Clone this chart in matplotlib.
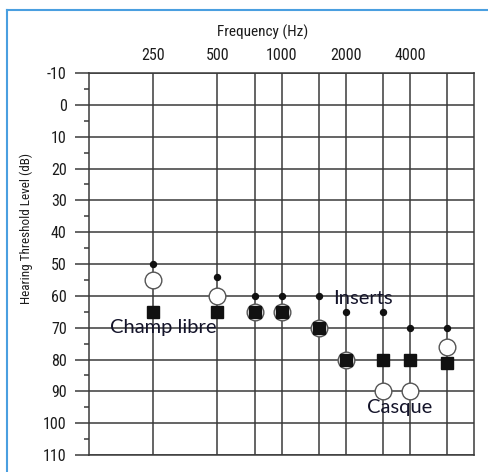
import matplotlib
matplotlib.use('Agg')
import matplotlib.pyplot as plt
from matplotlib import font_manager
from matplotlib.lines import Line2D

# fonts: narrow face for the audiogram frame, humanist face for the notes
names = {f.name for f in font_manager.fontManager.ttflist}
narrow = 'DejaVu Sans'
for cand in ['Liberation Sans Narrow', 'Roboto Condensed', 'Open Sans Condensed']:
    if cand in names:
        narrow = cand
        break
note_font = 'Lato'
plt.rcParams['axes.unicode_minus'] = False

grid_freqs = [250, 500, 750, 1000, 1500, 2000, 3000, 4000, 6000]
label_freqs = [250, 500, 1000, 2000, 4000]
db_ticks = list(range(-10, 111, 10))

# thresholds per frequency (dB HL)
dot_db = [50, 54, 60, 60, 60, 65, 65, 70, 70]
circle_db = [55, 60, 65, 65, 70, 80, 90, 90, 76]
square_db = [65, 65, 65, 65, 70, 80, 80, 80, 81]

fig = plt.figure(figsize=(4.89, 4.72), dpi=100)
ax = fig.add_axes([89/489, 1 - 455/472, (474 - 89)/489, (455 - 73)/472])

ax.set_xscale('log', base=2)
ax.set_xlim(125, 8000)
ax.set_ylim(110, -10)

gc = '#3a3a3a'
for f in grid_freqs:
    ax.axvline(f, color=gc, lw=1.1, zorder=1)
for d in db_ticks:
    ax.axhline(d, color=gc, lw=1.1, zorder=1)
for s in ax.spines.values():
    s.set_color(gc)
    s.set_linewidth(1.1)

lc = '#1c1c1c'
ax.set_yticks(db_ticks)
ax.set_yticks(range(-5, 110, 10), minor=True)
ax.tick_params(axis='y', which='major', length=10, width=1.1, color=gc,
               pad=6, labelsize=11.5, labelcolor=lc)
ax.tick_params(axis='y', which='minor', length=3.5, width=1.1, color=gc)
for t in ax.get_yticklabels():
    t.set_fontfamily(narrow)
    t.set_fontstretch('condensed')

ax.xaxis.set_minor_locator(plt.NullLocator())
ax.set_xticks(label_freqs)
ax.set_xticklabels([str(f) for f in label_freqs], family=narrow,
                   fontstretch='condensed')
ax.xaxis.tick_top()
ax.tick_params(axis='x', which='major', length=0, pad=7, labelsize=11.5,
               labelcolor=lc)

ax.plot(grid_freqs, circle_db, 'o', ms=12, mfc='white', mec='#555555',
        mew=1.0, ls='none', zorder=3)
ax.plot(grid_freqs, square_db, 's', ms=8.5, color='#111111', ls='none', zorder=4)
ax.plot(grid_freqs, dot_db, 'o', ms=4.3, color='#111111', ls='none', zorder=5)

tc = '#14142a'
ax.text(278, 69.8, 'Champ libre', fontsize=14.5, family=note_font, color=tc,
        ha='center', va='center', zorder=6)
ax.text(2400, 60.7, 'Inserts', fontsize=14.5, family=note_font, color=tc,
        ha='center', va='center', zorder=6)
ax.text(3590, 95, 'Casque', fontsize=14.5, family=note_font, color=tc,
        ha='center', va='center', zorder=6)

fig.text(263/489, 1 - 32/472, 'Frequency (Hz)', family=narrow,
         fontstretch='condensed', fontsize=11, color=lc,
         ha='center', va='center')
fig.text(26/489, 1 - 228/472, 'Hearing Threshold Level (dB)', family=narrow,
         fontstretch='condensed', fontsize=9.5, color=lc,
         ha='center', va='center', rotation=90)

# blue frame of the source figure
bc = '#4a9fe0'
fig.add_artist(Line2D([7/489, 1], [1 - 10/472, 1 - 10/472], color=bc, lw=1.5))
fig.add_artist(Line2D([7/489, 7/489], [0, 1 - 10/472], color=bc, lw=1.5))

fig.savefig('out.png', dpi=100)
